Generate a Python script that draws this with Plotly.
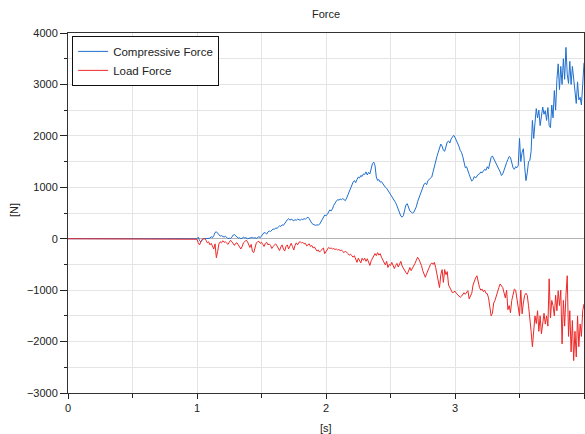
import numpy as np
import plotly.graph_objects as go

# sampled time grid: t=0 then 1.00 .. 4.00 s in 0.01 s steps
t_start = 1.0
t_step = 0.01

compressive = [
    0, 30, -40, -60, -20, 0, 0, 0, 10, 0,
    10, 40, 20, 60, 120, 135, 110, 80, 50, 60,
    40, 30, 50, 20, 0, 10, 5, 30, 70, 80,
    60, 40, 10, 20, 0, 10, 30, 15, 20, 0,
    10, 20, 15, 25, 10, 20, 5, 30, 40, 20,
    50, 80, 120, 110, 90, 130, 150, 140, 170, 190,
    180, 210, 200, 230, 250, 240, 270, 260, 300, 330,
    370, 390, 360, 380, 370, 350, 370, 360, 380, 370,
    360, 380, 370, 390, 380, 400, 420, 390, 340, 300,
    280, 270, 260, 270, 265, 280, 320, 380, 420, 460,
    450, 470, 520, 560, 540, 580, 650, 700, 730, 760,
    750, 770, 760, 780, 760, 740, 790, 850, 920, 980,
    1060, 1100, 1130, 1090, 1150, 1200, 1180, 1230, 1210, 1260,
    1250, 1300, 1240, 1290, 1260, 1380, 1460, 1490, 1420, 1200,
    1130, 1150, 1100, 1110, 1070, 1050, 1000, 980, 940, 920,
    880, 820, 790, 740, 700, 640, 560, 500, 440, 420,
    450, 560, 660, 680, 600, 540, 520, 500, 510, 560,
    620, 720, 790, 830, 900, 960, 1060, 1080, 1050, 1130,
    1160, 1180, 1200, 1300, 1420, 1550, 1600, 1680, 1780, 1840,
    1800, 1720, 1700, 1820, 1880, 1900, 1860, 1940, 1980, 2010,
    1970, 1920, 1870, 1800, 1720, 1680, 1600, 1450, 1380, 1400,
    1340, 1250, 1180, 1120, 1150, 1210, 1180, 1230, 1250, 1260,
    1300, 1280, 1320, 1350, 1330, 1400, 1360, 1450, 1580, 1610,
    1560, 1500, 1450, 1400, 1380, 1300, 1230, 1260, 1330, 1420,
    1480, 1540, 1600, 1580, 1480, 1380, 1350, 1400, 1380, 1420,
    1950, 1500, 1680, 1750, 1400, 1130, 1280, 1500, 1520, 1700,
    2300, 1950, 2250, 2530, 2350, 2500, 2200, 2450, 2560, 2420,
    2490, 2300, 2550, 2200, 2160, 2600, 2350, 2880, 2500, 3100,
    3400, 2900, 3350, 3000, 3500, 3100, 3720, 3200, 3020, 3450,
    3000, 3350, 3130, 2800, 2630, 3050, 2700, 2750, 2600, 3000,
    3420,
]

load = [
    -10, -80, -120, -60, -10, 0, 0, -30, -80, -60,
    -120, -90, -150, -200, -100, -370, -250, -100, -60, -80,
    -40, -70, -60, -90, -110, -70, -30, -60, -100, -130,
    -90, -80, -120, -160, -200, -150, -80, -60, -30, -50,
    -100, -170, -110, -250, -270, -170, -80, -60, -50, -90,
    -70, -110, -150, -90, -70, -120, -100, -130, -190, -150,
    -120, -100, -140, -180, -230, -160, -120, -200, -240, -150,
    -120, -200, -150, -90, -150, -220, -130, -80, -120, -70,
    -60, -80, -70, -100, -90, -140, -120, -100, -150, -130,
    -180, -160, -200, -240, -220, -260, -230, -210, -180, -290,
    -250, -200, -170, -190, -180, -200, -190, -210, -200, -220,
    -210, -230, -220, -250, -270, -240, -260, -290, -320, -300,
    -330, -360, -330, -400, -460, -380, -420, -470, -380, -420,
    -380, -440, -390, -480, -520, -430, -380, -330, -290, -330,
    -270, -320, -290, -360, -420, -470, -510, -440, -560, -500,
    -520, -460, -540, -580, -520, -480, -550, -500, -440, -530,
    -580, -620, -660, -690, -600, -560, -620, -580, -520, -480,
    -420, -360, -400, -450, -520, -620, -700, -750, -680, -600,
    -560, -500, -470, -500, -460, -560, -700, -850, -950, -700,
    -600, -850, -600, -700, -640, -900, -950, -1000, -1050, -1040,
    -1020, -1060, -1090, -1110, -1140, -1120, -1090, -1050, -1080, -1040,
    -1010, -1170, -1110, -1060, -900, -800, -760, -720, -880, -950,
    -1000, -980, -1030, -1000, -1060, -1070, -1150, -1300, -1500, -1450,
    -1250, -1200, -1100, -1000, -950, -880, -920, -950, -1050, -1150,
    -1000, -1380, -1300, -1440, -1200, -1050, -980, -1000, -1150, -1280,
    -1500, -1000, -1460, -1250, -1100, -1060, -1100, -1300, -1500, -1800,
    -2100, -1700, -1500, -1650, -1400, -1800, -1500, -1850, -1600, -1450,
    -1660, -1500, -1700, -780, -1540, -1200, -1300, -1500, -1100, -1400,
    -1010, -1300, -1000, -2045, -1200, -1700, -1100, -720, -1900, -1400,
    -2200, -1590, -2370, -1800, -2300, -1500, -2100, -1660, -1900, -1400,
    -1270,
]

series_names = ["Compressive Force", "Load Force"]
series_colors = ["#1f6fd0", "#ee2828"]

grid = np.round(t_start + t_step * np.arange(len(compressive)), 2)
t = np.concatenate([[0.0], grid])
y_comp = [0] + compressive
y_load = [0] + load

FONT = "Liberation Sans, Arial, sans-serif"
W, H = 585, 434
ML, MR, MT, MB = 68, 1, 33, 41

fig = go.Figure()
fig.add_trace(go.Scatter(x=t, y=y_comp, mode="lines", name=series_names[0],
                         line=dict(color=series_colors[0], width=1)))
fig.add_trace(go.Scatter(x=t, y=y_load, mode="lines", name=series_names[1],
                         line=dict(color=series_colors[1], width=1)))

axis_common = dict(
    automargin=False,
    showline=True, linecolor="#333333", linewidth=1, mirror=True,
    showgrid=True, gridcolor="#e4e4e4", gridwidth=1,
    ticks="outside", tickcolor="#222222", tickwidth=1,
    tickfont=dict(family=FONT, size=11, color="#222222"),
)

fig.update_layout(
    width=W, height=H, autosize=False,
    paper_bgcolor="white", plot_bgcolor="white",
    margin=dict(l=ML, r=MR, t=MT, b=MB, autoexpand=False),
    font=dict(family=FONT, size=11, color="#222222"),
    title=dict(text="Force", x=(ML + (W - MR)) / 2 / W, xanchor="center",
               y=1 - 14 / H, yanchor="middle",
               font=dict(family=FONT, size=11, color="#222222")),
    showlegend=True,
    legend=dict(x=0.008, y=0.992, xanchor="left", yanchor="top",
                bgcolor="white", bordercolor="#111111", borderwidth=1,
                font=dict(family=FONT, size=11.5, color="#222222"),
                tracegroupgap=0),
    xaxis=dict(range=[0, 4], dtick=1, tick0=0, ticklen=5,
               minor=dict(dtick=0.5, showgrid=True, gridcolor="#e4e4e4",
                          ticks="outside", ticklen=4, tickcolor="#222222"),
               zeroline=False,
               **axis_common),
    yaxis=dict(range=[-3000, 4000], dtick=1000, tick0=0, ticklen=7,
               minor=dict(dtick=500, showgrid=True, gridcolor="#e4e4e4",
                          ticks="outside", ticklen=3, tickcolor="#222222"),
               zeroline=True, zerolinecolor="#b4b4b4", zerolinewidth=1,
               **axis_common),
    annotations=[
        dict(text="[s]", xref="paper", yref="paper", x=0.5, y=-(428 - (H - MB)) / (H - MT - MB),
             xanchor="center", yanchor="middle", showarrow=False,
             font=dict(family=FONT, size=11, color="#222222")),
        dict(text="[N]", xref="paper", yref="paper", x=-(ML - 14) / (W - ML - MR),
             y=(H - MB - 210) / (H - MT - MB), textangle=-90,
             xanchor="center", yanchor="middle", showarrow=False,
             font=dict(family=FONT, size=11, color="#222222")),
    ],
)

fig.write_html(
    "out.html",
    config={"responsive": False, "displayModeBar": False},
    default_width="585px", default_height="434px",
    post_script="document.body.style.margin='0px';document.body.style.overflow='hidden';",
)
